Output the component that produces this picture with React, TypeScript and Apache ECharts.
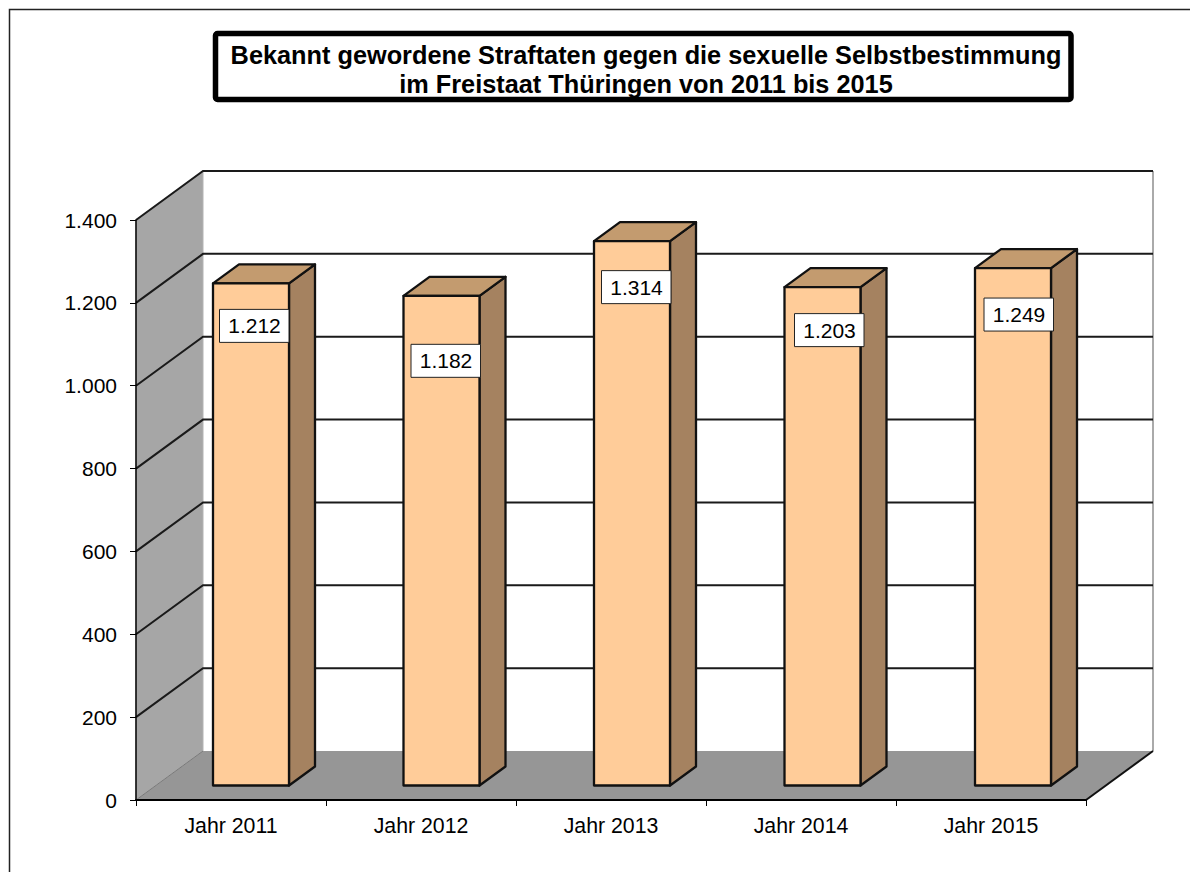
import React, { useEffect, useRef } from "react";
import * as echarts from "echarts";

const titleLines = [
  "Bekannt gewordene Straftaten gegen die sexuelle Selbstbestimmung",
  "im Freistaat Thüringen von 2011 bis 2015",
];
const categories = ["Jahr 2011", "Jahr 2012", "Jahr 2013", "Jahr 2014", "Jahr 2015"];
const cases = [1212, 1182, 1314, 1203, 1249];
const gridValues = [200, 400, 600, 800, 1000, 1200, 1400];

// label box placement relative to the bar's front face (manual placement, as in the source chart)
const labelDx = [6, 7, 7, 9.5, 8.5];
const labelDy = [25.5, 48, 29, 26, 29.5];

const FONT = '"Liberation Sans", Arial, sans-serif';
const WALL_DX = 67;
const WALL_DY = -49;
const BAR_DX = 20;
const BAR_DY = -14.5;
const BAR_PITCH_FIX = 0.5;
const SIDE_DX = 26;
const SIDE_DY = -19;
const BAR_W = 76;
const INK = "#111111";

function renderShell(params: any, api: any) {
  const c = params.coordSys;
  const x0 = c.x;
  const x1 = c.x + c.width;
  const yb = c.y + c.height;
  const yt = c.y;
  return {
    type: "group",
    children: [
      {
        type: "polygon",
        shape: { points: [[x0, yb], [x0, yt], [x0 + WALL_DX, yt + WALL_DY], [x0 + WALL_DX, yb + WALL_DY]] },
        style: { fill: "#a6a6a6", stroke: "#b4b4b4", lineWidth: 1 },
      },
      {
        type: "polygon",
        shape: { points: [[x0, yb], [x1, yb], [x1 + WALL_DX, yb + WALL_DY], [x0 + WALL_DX, yb + WALL_DY]] },
        style: { fill: "#969696" },
      },
      {
        type: "line",
        shape: { x1: x1 + WALL_DX, y1: yt + WALL_DY, x2: x1 + WALL_DX, y2: yb + WALL_DY },
        style: { stroke: "#aaaaaa", lineWidth: 2 },
      },
      {
        type: "line",
        shape: { x1: x0, y1: yb, x2: x0 + WALL_DX, y2: yb + WALL_DY },
        style: { stroke: "#7a7a7a", lineWidth: 1 },
      },
      {
        type: "line",
        shape: { x1: x1, y1: yb, x2: x1 + WALL_DX, y2: yb + WALL_DY },
        style: { stroke: INK, lineWidth: 2 },
      },
    ],
  };
}

function renderGridLine(params: any, api: any) {
  const c = params.coordSys;
  const y = api.coord([0, api.value(0)])[1];
  const x0 = c.x;
  const x1 = c.x + c.width;
  return {
    type: "polyline",
    shape: { points: [[x0, y], [x0 + WALL_DX, y + WALL_DY], [x1 + WALL_DX, y + WALL_DY]] },
    style: { fill: "none", stroke: "#1a1a1a", lineWidth: 2 },
  };
}

function renderBar(params: any, api: any) {
  const i = api.value(0);
  const v = api.value(1);
  const top = api.coord([i, v]);
  const base = api.coord([i, 0]);
  const xl = top[0] - 38 + BAR_DX + i * BAR_PITCH_FIX;
  const xr = xl + BAR_W;
  const yt = top[1] + BAR_DY;
  const yb = base[1] + BAR_DY;
  const edge = { stroke: INK, lineWidth: 2.3, lineJoin: "round" };
  const bx = xl + labelDx[i];
  const by = yt + labelDy[i];
  return {
    type: "group",
    children: [
      {
        type: "polygon",
        shape: { points: [[xr, yt], [xr + SIDE_DX, yt + SIDE_DY], [xr + SIDE_DX, yb + SIDE_DY], [xr, yb]] },
        style: { fill: "#a58260", ...edge },
      },
      {
        type: "polygon",
        shape: { points: [[xl, yt], [xl + SIDE_DX, yt + SIDE_DY], [xr + SIDE_DX, yt + SIDE_DY], [xr, yt]] },
        style: { fill: "#c39b6f", ...edge },
      },
      {
        type: "rect",
        shape: { x: xl, y: yt, width: BAR_W, height: yb - yt },
        style: { fill: "#ffcc99", ...edge },
      },
      {
        type: "rect",
        shape: { x: bx + 0.5, y: by + 0.5, width: 69.5, height: 33 },
        style: { fill: "#ffffff", stroke: "#222222", lineWidth: 1 },
      },
      {
        type: "text",
        style: {
          x: bx + 35.5,
          y: by + 17,
          text: String(v).replace(/\B(?=(\d{3})+$)/g, "."),
          align: "center",
          verticalAlign: "middle",
          font: `21px ${FONT}`,
          fill: "#000000",
        },
      },
    ],
  };
}

export default function App() {
  const ref = useRef<HTMLDivElement>(null);
  useEffect(() => {
    const chart = echarts.init(ref.current!, null, { renderer: "svg" });
    chart.setOption({
      animation: false,
      backgroundColor: "#ffffff",
      textStyle: { fontFamily: FONT },
      title: {
        text: titleLines.join("\n"),
        left: 641,
        top: 35,
        textAlign: "center",
        textStyle: { fontFamily: FONT, fontSize: 25.3, fontWeight: "bold", color: "#000", lineHeight: 29 },
      },
      graphic: [
        {
          type: "polyline",
          z: 1,
          shape: { points: [[1190, 9.5], [9.5, 9.5], [9.5, 872]] },
          style: { fill: "none", stroke: "#222222", lineWidth: 1.5 },
        },
        {
          type: "rect",
          z: 1,
          shape: { x: 215.5, y: 33.5, width: 855.5, height: 66, r: 2 },
          style: { fill: "none", stroke: "#000000", lineWidth: 5.5 },
        },
      ],
      grid: { left: 136, top: 220, width: 950, height: 580 },
      xAxis: {
        type: "category",
        data: categories,
        boundaryGap: true,
        z: 5,
        axisLine: { show: true, lineStyle: { color: "#000", width: 2 } },
        axisTick: { show: true, alignWithLabel: false, length: 6, lineStyle: { color: "#000", width: 1 } },
        axisLabel: { fontFamily: FONT, fontSize: 21.3, color: "#000", margin: 15 },
      },
      yAxis: {
        type: "value",
        min: 0,
        max: 1400,
        interval: 200,
        z: 5,
        axisLine: { show: true, lineStyle: { color: "#000", width: 1.5 } },
        axisTick: { show: true, length: 6, lineStyle: { color: "#000", width: 1 } },
        splitLine: { show: false },
        axisLabel: {
          fontFamily: FONT,
          fontSize: 21,
          color: "#000",
          margin: 19,
          formatter: (v: number) => String(v).replace(/\B(?=(\d{3})+$)/g, "."),
        },
      },
      series: [
        { type: "custom", name: "shell", silent: true, z: 1, renderItem: renderShell, data: [[0]], encode: { x: -1, y: -1 } },
        { type: "custom", name: "grid", silent: true, z: 2, renderItem: renderGridLine, data: gridValues.map((v) => [v]), encode: { x: -1, y: -1 } },
        {
          type: "custom",
          name: "Straftaten",
          silent: true,
          z: 3,
          renderItem: renderBar,
          data: cases.map((v, i) => [i, v]),
          encode: { x: 0, y: 1 },
        },
      ],
    });
    return () => chart.dispose();
  }, []);
  return <div ref={ref} style={{ position: "absolute", left: 0, top: 0, width: 1190, height: 872 }} />;
}
